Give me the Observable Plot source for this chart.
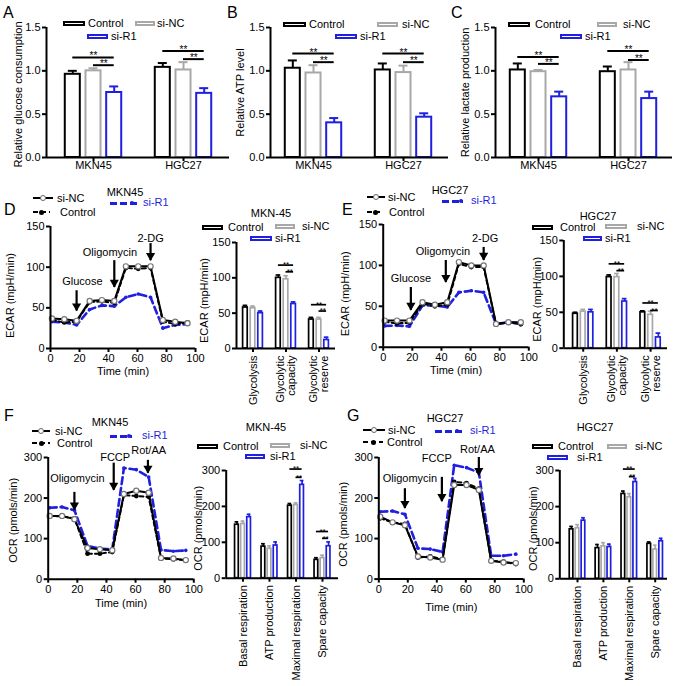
<!DOCTYPE html>
<html><head><meta charset="utf-8">
<script src="https://cdn.jsdelivr.net/npm/d3@7"></script>
<script src="https://cdn.jsdelivr.net/npm/@observablehq/plot@0.6"></script>
<style>
body{margin:0;background:#fff;}
#fig{position:relative;width:677px;height:686px;overflow:hidden;font-family:"Liberation Sans",Arial,Helvetica,sans-serif;color:#000;background:#fff;}
.abs{position:absolute;line-height:1;white-space:nowrap;}
</style></head><body><div id="fig"></div><script>
// ---------------- DATA ----------------
const series = ["Control", "si-NC", "si-R1"];
const cellLines = ["MKN45", "HGC27"];
const ratioTicks = [0, 0.5, 1.0, 1.5];

// A: relative glucose consumption, rows = cell lines, cols = series
const glucoseMean = [[0.96, 1.00, 0.75], [1.04, 1.01, 0.74]];
const glucoseErr  = [[0.04, 0.03, 0.07], [0.05, 0.09, 0.06]];
const glucoseSig  = [[1.155, 1.065], [1.23, 1.135]];
// B: relative ATP level
const atpMean = [[1.03, 0.975, 0.40], [1.01, 0.98, 0.465]];
const atpErr  = [[0.09, 0.09, 0.055], [0.075, 0.08, 0.045]];
const atpSig  = [[1.2, 1.1], [1.2, 1.1]];
// C: relative lactate production
const lactateMean = [[1.01, 0.99, 0.70], [0.99, 1.01, 0.68]];
const lactateErr  = [[0.075, 0.02, 0.06], [0.06, 0.09, 0.08]];
const lactateSig  = [[1.16, 1.08], [1.23, 1.125]];

// Seahorse time courses
const timeMin = [1, 9.5, 18, 27, 35.5, 44, 52, 60.5, 69, 77.5, 86, 94.5];
const timeTicks = [0, 20, 40, 60, 80, 100];
const ecarTicks = [0, 50, 100, 150];
const ocrTicks = [0, 100, 200, 300];

// D: ECAR MKN45
const ecarMKN45_siNC = [37, 36, 34, 58.5, 59.5, 58.5, 101, 101, 101, 35, 33, 31];
const ecarMKN45_ctrl = [35, 32, 33, 57, 58, 56, 99, 98, 99, 33, 30, 32];
const ecarMKN45_siR1 = [33, 32, 29, 48, 53, 52, 63, 67, 63, 25, 29, 30];
// E: ECAR HGC27
const ecarHGC27_siNC = [32.5, 32.5, 32.5, 55, 52, 55, 104, 100, 100, 28.5, 30.5, 30.5];
const ecarHGC27_ctrl = [31, 29, 30, 53, 50, 52, 102, 98, 98, 28, 30, 28];
const ecarHGC27_siR1 = [26, 26.5, 25.5, 51, 51, 49, 67, 69, 67, 28.5, 30.5, 29];
// F: OCR MKN45
const ocrMKN45_siNC = [156, 156, 148, 77, 74, 71.5, 210, 218, 213, 52.5, 51, 47];
const ocrMKN45_ctrl = [156, 155, 150, 63, 63, 67, 207, 205, 203, 51, 49, 47];
const ocrMKN45_siR1 = [176, 178, 170, 82, 75, 74, 274, 270, 252, 72, 69, 71];
// G: OCR HGC27
const ocrHGC27_siNC = [154, 140, 133, 56, 53, 48, 232, 232, 220, 45, 41, 39.5];
const ocrHGC27_ctrl = [150, 140, 136, 53, 56, 49, 240, 237, 223, 45, 43, 37];
const ocrHGC27_siR1 = [166, 168, 160, 76, 74, 67, 281, 275, 263, 57.5, 57.5, 61.5];

// injection annotations (label, arrow x, arrow top, arrow tip, label x, label y)
const ecarInjections = ["Glucose", "Oligomycin", "2-DG"];
const ecarMKN45_arrowX = [18, 44, 69], ecarMKN45_arrowTop = [71, 108, 129], ecarMKN45_arrowTip = [46, 75, 108];
const ecarMKN45_labelX = [22, 41, 69], ecarMKN45_labelY = [82, 118, 135];
const ecarHGC27_arrowX = [19, 43, 69], ecarHGC27_arrowTop = [73, 106, 122], ecarHGC27_arrowTip = [45, 79, 106];
const ecarHGC27_labelX = [19, 41, 70], ecarHGC27_labelY = [84, 117, 133];
const ocrInjections = ["Oligomycin", "FCCP", "Rot/AA"];
const ocrMKN45_arrowX = [18, 45, 68.5], ocrMKN45_arrowTop = [214, 286, 293], ocrMKN45_arrowTip = [170, 219, 261];
const ocrMKN45_labelX = [20, 46, 69], ocrMKN45_labelY = [249, 301, 318];
const ocrHGC27_arrowX = [18, 43.5, 69], ocrHGC27_arrowTop = [223, 251, 300], ocrHGC27_arrowTip = [174, 191, 255];
const ocrHGC27_labelX = [21.5, 40, 68], ocrHGC27_labelY = [248, 297, 321];

// glycolysis stress test bars, rows = categories, cols = series
const ecarCats = ["Glycolysis", "Glycolytic\ncapacity", "Glycolytic\nreserve"];
const ecarBarMKN45 = [[58, 57, 50], [100, 98, 63], [41, 41, 12]];
const ecarBarMKN45Err = [[3, 3, 3], [4, 5, 3], [3, 3, 4]];
const ecarBarMKN45Sig = [null, [118, 108.5], [62, 53]];
const ecarBarHGC27 = [[48, 51, 50], [99, 99, 65], [50, 46.5, 15]];
const ecarBarHGC27Err = [[2, 3, 4], [3, 5, 4], [2, 5, 6]];
const ecarBarHGC27Sig = [null, [117.5, 108], [63, 52.5]];
// mito stress test bars
const ocrCats = ["Basal respiration", "ATP production", "Maximal respiration", "Spare capacity"];
const ocrBarMKN45 = [[149, 151, 170], [88, 82, 91], [202, 204, 260], [51, 56, 89]];
const ocrBarMKN45Err = [[8, 8, 8], [8, 8, 10], [6, 6, 12], [6, 8, 12]];
const ocrBarMKN45Sig = [null, null, [304, 281], [130, 111]];
const ocrBarHGC27 = [[137, 140, 161], [85, 90, 88], [235, 226, 268], [97, 81, 104]];
const ocrBarHGC27Err = [[8, 10, 8], [10, 10, 8], [8, 10, 10], [5, 12, 8]];
const ocrBarHGC27Sig = [null, null, [304, 283], null];

// ---------------- DRAWING ----------------
const FONT = '"Liberation Sans", Arial, Helvetica, sans-serif';
const BLUE = "#1f1fe0", GRAY = "#a8a8a8";
const seriesColors = ["#000000", GRAY, BLUE];
const fig = document.getElementById("fig");
const baseStyle = {fontFamily: FONT, fontSize: "11px", overflow: "visible", background: "transparent", color: "#000"};

function place(svg, x, y) {
  svg.style.position = "absolute";
  svg.style.left = x + "px";
  svg.style.top = y + "px";
  svg.style.maxWidth = "none";
  fig.appendChild(svg);
}

function barPanel(p) {
  const f = p.frame, big = !!p.big;
  const sw = big ? 2 : 1.7, off = 0.23, bw = big ? 0.167 : 0.14, cap = big ? 0.05 : 0.07;
  const ml = f.l - p.labelX + 10, mr = 8, mt = 20, mb = big ? 30 : 112;
  const xDom = [(f.l - p.c0) / p.sp, (f.r - p.c0) / p.sp];
  const recs = [];
  p.cats.forEach((c, ci) => series.forEach((s, si) =>
    recs.push({ci, si, s, v: p.mean[ci][si], e: p.err[ci][si]})));
  const xc = d => d.ci + (d.si - 1) * off;
  const sigRecs = [];
  p.sig.forEach((lv, ci) => {
    if (!lv) return;
    sigRecs.push({x1: ci - off, x2: ci + off, y: lv[0]});
    sigRecs.push({x1: ci, x2: ci + off, y: lv[1]});
  });
  const svg = Plot.plot({
    width: ml + (f.r - f.l) + mr, height: mt + (f.b - f.t) + mb,
    marginLeft: ml, marginRight: mr, marginTop: mt, marginBottom: mb,
    x: {type: "linear", domain: xDom, label: null},
    y: {domain: p.yDomain, label: null},
    color: {domain: series, range: seriesColors},
    style: baseStyle,
    marks: [
      Plot.ruleX(recs, {x: xc, y1: "v", y2: d => d.v + d.e, stroke: "s", strokeWidth: sw}),
      Plot.ruleY(recs, {y: d => d.v + d.e, x1: d => xc(d) - cap, x2: d => xc(d) + cap, stroke: "s", strokeWidth: sw}),
      Plot.rect(recs, {x1: d => xc(d) - bw / 2, x2: d => xc(d) + bw / 2, y1: 0, y2: "v", fill: "white", stroke: "s", strokeWidth: sw}),
      Plot.ruleY(sigRecs, {y: "y", x1: "x1", x2: "x2", strokeWidth: sw}),
      Plot.text(sigRecs, {x: d => (d.x1 + d.x2) / 2, y: "y", text: () => "**", lineAnchor: "bottom", dy: big ? 2 : 2.2, fontSize: big ? 10 : 8}),
      Plot.ruleY([0], {strokeWidth: 2}),
      Plot.ruleX([xDom[0]], {strokeWidth: 2}),
      Plot.axisY({ticks: p.yTicks, tickFormat: p.yFmt, tickSize: 4, tickPadding: 2, strokeWidth: 2, label: null}),
      Plot.axisX({ticks: d3.range(p.cats.length), tickFormat: i => p.cats[i], tickSize: 4,
        tickPadding: big ? 0 : 3, strokeWidth: 2, label: null, tickRotate: big ? 0 : -90}),
      Plot.text([p.yLabel], {text: d => d, frameAnchor: "left", textAnchor: "middle", lineAnchor: "middle",
        dx: p.labelX - f.l, dy: p.labelDy || 0, rotate: -90})
    ]
  });
  place(svg, f.l - ml, f.t - mt);
}

function linePanel(p) {
  const f = p.frame;
  const ml = f.l - p.labelX + 10, mr = 14, mt = 40, mb = 34;
  const rec = arr => timeMin.map((t, i) => ({t, v: arr[i]}));
  const arrows = p.events.map((e, i) => ({x: p.ax[i], top: p.atop[i], tip: p.atip[i]}));
  const notes = p.events.map((e, i) => ({x: p.lx[i], y: p.ly[i], e}));
  const svg = Plot.plot({
    width: ml + (f.r - f.l) + mr, height: mt + (f.b - f.t) + mb,
    marginLeft: ml, marginRight: mr, marginTop: mt, marginBottom: mb,
    x: {domain: [0, 100], label: null},
    y: {domain: [0, p.yTicks[p.yTicks.length - 1]], label: null},
    style: baseStyle,
    marks: [
      Plot.line(rec(p.siR1), {x: "t", y: "v", stroke: BLUE, strokeWidth: 2.6, strokeDasharray: "7,4"}),
      Plot.dot(rec(p.siR1), {x: "t", y: "v", r: 1.8, fill: BLUE}),
      Plot.line(rec(p.ctrl), {x: "t", y: "v", stroke: "#000", strokeWidth: 2, strokeDasharray: "4,3"}),
      Plot.dot(rec(p.ctrl), {x: "t", y: "v", r: 2.4, fill: "#000"}),
      Plot.line(rec(p.siNC), {x: "t", y: "v", stroke: "#000", strokeWidth: 2}),
      Plot.dot(rec(p.siNC), {x: "t", y: "v", r: 2.6, fill: "white", stroke: "#777", strokeWidth: 1.2}),
      Plot.ruleX(arrows, {x: "x", y1: "tip", y2: "top", strokeWidth: 2.2}),
      Plot.dot(arrows, {x: "x", y: "tip", symbol: "triangle", r: 3.4, fill: "#000", rotate: 180, dy: -5}),
      Plot.text(notes, {x: "x", y: "y", text: "e"}),
      Plot.ruleY([0], {strokeWidth: 2}),
      Plot.ruleX([0], {strokeWidth: 2}),
      Plot.axisY({ticks: p.yTicks, tickSize: 4, tickPadding: 2, strokeWidth: 2, label: null}),
      Plot.axisX({ticks: timeTicks, tickSize: 4, tickPadding: 2, strokeWidth: 2, label: null}),
      Plot.text(["Time (min)"], {text: d => d, frameAnchor: "bottom", textAnchor: "middle", lineAnchor: "middle", dy: p.timeDy}),
      Plot.text([p.yLabel], {text: d => d, frameAnchor: "left", textAnchor: "middle", lineAnchor: "middle",
        dx: p.labelX - f.l, dy: p.labelDy || 0, rotate: -90})
    ]
  });
  place(svg, f.l - ml, f.t - mt);
}

const fmt1 = d3.format(".1f");
// top row
barPanel({frame: {l: 46, r: 229, t: 27, b: 157}, c0: 93, sp: 90, big: true, cats: cellLines,
  mean: glucoseMean, err: glucoseErr, sig: glucoseSig, yDomain: [0, 1.5], yTicks: ratioTicks, yFmt: fmt1,
  yLabel: "Relative glucose consumption", labelX: 18, labelDy: 2});
barPanel({frame: {l: 270, r: 448, t: 27, b: 157}, c0: 313, sp: 90, big: true, cats: cellLines,
  mean: atpMean, err: atpErr, sig: atpSig, yDomain: [0, 1.5], yTicks: ratioTicks, yFmt: fmt1,
  yLabel: "Relative ATP level", labelX: 240, labelDy: 0});
barPanel({frame: {l: 495, r: 672, t: 27, b: 157}, c0: 538, sp: 90, big: true, cats: cellLines,
  mean: lactateMean, err: lactateErr, sig: lactateSig, yDomain: [0, 1.5], yTicks: ratioTicks, yFmt: fmt1,
  yLabel: "Relative lactate production", labelX: 465, labelDy: 0});

// D / E
linePanel({frame: {l: 50, r: 195, t: 225.7, b: 347.7}, yTicks: ecarTicks, yLabel: "ECAR (mpH/min)", labelX: 10, labelDy: 8, timeDy: 23,
  siNC: ecarMKN45_siNC, ctrl: ecarMKN45_ctrl, siR1: ecarMKN45_siR1, events: ecarInjections,
  ax: ecarMKN45_arrowX, atop: ecarMKN45_arrowTop, atip: ecarMKN45_arrowTip, lx: ecarMKN45_labelX, ly: ecarMKN45_labelY});
barPanel({frame: {l: 236, r: 335, t: 241.7, b: 347.7}, c0: 252.5, sp: 33, cats: ecarCats,
  mean: ecarBarMKN45, err: ecarBarMKN45Err, sig: ecarBarMKN45Sig, yDomain: [0, 150], yTicks: ecarTicks,
  yLabel: "ECAR (mpH/min)", labelX: 204, labelDy: 5});
linePanel({frame: {l: 382.7, r: 528.3, t: 224, b: 346.7}, yTicks: ecarTicks, yLabel: "ECAR (mpH/min)", labelX: 345, labelDy: 8, timeDy: 23,
  siNC: ecarHGC27_siNC, ctrl: ecarHGC27_ctrl, siR1: ecarHGC27_siR1, events: ecarInjections,
  ax: ecarHGC27_arrowX, atop: ecarHGC27_arrowTop, atip: ecarHGC27_arrowTip, lx: ecarHGC27_labelX, ly: ecarHGC27_labelY});
barPanel({frame: {l: 563.3, r: 667, t: 240, b: 347.7}, c0: 582.7, sp: 33.7, cats: ecarCats,
  mean: ecarBarHGC27, err: ecarBarHGC27Err, sig: ecarBarHGC27Sig, yDomain: [0, 150], yTicks: ecarTicks,
  yLabel: "ECAR (mpH/min)", labelX: 537, labelDy: 5});

// F / G
linePanel({frame: {l: 47.7, r: 193.3, t: 457.3, b: 579}, yTicks: ocrTicks, yLabel: "OCR (pmols/min)", labelX: 13, labelDy: 2, timeDy: 24,
  siNC: ocrMKN45_siNC, ctrl: ocrMKN45_ctrl, siR1: ocrMKN45_siR1, events: ocrInjections,
  ax: ocrMKN45_arrowX, atop: ocrMKN45_arrowTop, atip: ocrMKN45_arrowTip, lx: ocrMKN45_labelX, ly: ocrMKN45_labelY});
barPanel({frame: {l: 225.7, r: 338, t: 470, b: 577.7}, c0: 242.5, sp: 26.5, cats: ocrCats,
  mean: ocrBarMKN45, err: ocrBarMKN45Err, sig: ocrBarMKN45Sig, yDomain: [0, 300], yTicks: ocrTicks,
  yLabel: "OCR (pmols/min)", labelX: 198, labelDy: 4});
linePanel({frame: {l: 378.3, r: 523.3, t: 456.7, b: 578.3}, yTicks: ocrTicks, yLabel: "OCR (pmols/min)", labelX: 343, labelDy: 6, timeDy: 28,
  siNC: ocrHGC27_siNC, ctrl: ocrHGC27_ctrl, siR1: ocrHGC27_siR1, events: ocrInjections,
  ax: ocrHGC27_arrowX, atop: ocrHGC27_arrowTop, atip: ocrHGC27_arrowTip, lx: ocrHGC27_labelX, ly: ocrHGC27_labelY});
barPanel({frame: {l: 559.3, r: 667, t: 470, b: 578.3}, c0: 577, sp: 25.9, cats: ocrCats,
  mean: ocrBarHGC27, err: ocrBarHGC27Err, sig: ocrBarHGC27Sig, yDomain: [0, 300], yTicks: ocrTicks,
  yLabel: "OCR (pmols/min)", labelX: 533, labelDy: 4});

// ---------------- LEGENDS / LETTERS (HTML) ----------------
function txt(s, x, yc, o = {}) {
  const el = document.createElement("div");
  const size = o.size || 11;
  el.className = "abs";
  el.textContent = s;
  el.style.fontSize = size + "px";
  el.style.left = x + "px";
  el.style.top = (o.baseline !== undefined ? o.baseline - 0.8465 * size : yc - 0.4885 * size) + "px";
  if (o.color) el.style.color = o.color;
  if (o.center) el.style.transform = "translateX(-50%)";
  fig.appendChild(el);
}
function box(x, y, w, h, css) {
  const el = document.createElement("div");
  el.className = "abs";
  Object.assign(el.style, {left: x + "px", top: y + "px", width: w + "px", height: h + "px", boxSizing: "border-box"}, css);
  fig.appendChild(el);
}
function barSwatch(x0, x1, yc, color) {
  box(x0, yc - 2.5, x1 - x0, 5, {border: "2px solid " + color, background: "#fff"});
}
function lineSwatch(x0, x1, yc, kind) {
  const m = (x0 + x1) / 2;
  if (kind === "siNC") {
    box(x0, yc - 1, x1 - x0, 2, {background: "#000"});
    box(m - 3, yc - 3, 6, 6, {border: "1.2px solid #666", borderRadius: "50%", background: "#fff"});
  } else if (kind === "ctrl") {
    box(x0, yc - 1, x1 - x0, 2, {background: "repeating-linear-gradient(to right,#000 0 5px,transparent 5px 8px)"});
    box(m - 2.5, yc - 2.5, 5, 5, {borderRadius: "50%", background: "#000"});
  } else {
    box(x0, yc - 1.5, x1 - x0, 3, {background: "repeating-linear-gradient(to right," + BLUE + " 0 7px,transparent 7px 10px)"});
    box(m + 6, yc - 2, 4, 4, {borderRadius: "50%", background: BLUE});
  }
}
function barLegend(sw, tx) {
  series.forEach((s, i) => { barSwatch(sw[i][0], sw[i][1], sw[i][2], seriesColors[i]); txt(s, tx[i], sw[i][2]); });
}
function lineLegend(title, tc, ty, r) {
  txt(title, tc, ty, {center: true});
  lineSwatch(r[0][0], r[0][1], r[0][2], "siNC"); txt("si-NC", r[0][3], r[0][2]);
  lineSwatch(r[1][0], r[1][1], r[1][2], "ctrl"); txt("Control", r[1][3], r[1][2]);
  lineSwatch(r[2][0], r[2][1], r[2][2], "siR1"); txt("si-R1", r[2][3], r[2][2] - 1, {color: BLUE});
}

// panel letters
[["A", 3, 19], ["B", 227, 19], ["C", 451, 19], ["D", 4, 216], ["E", 342, 216], ["F", 4, 422], ["G", 347, 422]]
  .forEach(([l, x, b]) => txt(l, x, 0, {size: 16, baseline: b}));

// top row legends
barLegend([[63, 85, 23.5], [135, 155, 23.5], [87, 108, 36.5]], [88, 157, 111]);
barLegend([[283, 306, 24], [377, 398, 24], [335, 357, 36.5]], [309, 402, 360]);
barLegend([[508, 530, 24], [597, 617, 24], [560, 582, 36.5]], [535, 623, 585]);

// D / E legends
lineLegend("MKN45", 125, 192, [[33, 53, 198, 57], [33, 50, 212, 60], [110, 137, 203, 143]]);
lineLegend("HGC27", 450, 190, [[367, 385, 197, 388], [367, 383, 212, 389], [442, 463, 201, 471]]);
txt("MKN-45", 271, 213, {center: true});
barLegend([[202, 223, 227.5], [275, 295, 226.5], [250, 272, 238]], [228, 302, 275]);
txt("HGC27", 598, 216, {center: true});
barLegend([[532, 553, 227.5], [605, 627, 226.5], [583, 602, 238]], [560, 637, 605]);

// F / G legends
lineLegend("MKN45", 110, 422, [[32, 50, 431, 55], [32, 50, 443, 57], [110, 132, 436, 142]]);
lineLegend("HGC27", 445, 418, [[363, 385, 430, 388], [363, 383, 442, 387], [435, 463, 431, 470]]);
txt("MKN-45", 266, 427, {center: true});
barLegend([[197, 218, 446], [270, 290, 445], [245, 265, 456]], [223, 300, 270]);
txt("HGC27", 595, 427, {center: true});
barLegend([[532, 553, 446], [607, 627, 446], [547, 568, 457]], [558, 635, 577]);
</script></body></html>
